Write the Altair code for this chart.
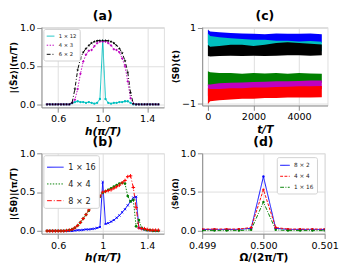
import altair as alt
import pandas as pd

FONT = "DejaVu Sans"

# ---------------- data ----------------
H = [0.5, 0.525, 0.55, 0.575, 0.6, 0.625, 0.65, 0.675, 0.7, 0.725, 0.75,
     0.775, 0.8, 0.825, 0.85, 0.875, 0.9, 0.925, 0.95, 0.975, 1.0,
     1.025, 1.05, 1.075, 1.1, 1.125, 1.15, 1.175, 1.2, 1.225, 1.25,
     1.275, 1.3, 1.325, 1.35, 1.375, 1.4, 1.425, 1.45, 1.475, 1.5]

A_NAMES = ["1 × 12", "4 × 3", "6 × 2"]
A_1x12 = [0, 0, 0, 0, 0, 0, 0, 0, 0,
          0.015, 0.03, 0.04, 0.03, 0.03, 0.02, 0.03, 0.02, 0.01, 0.02, 0.07, 0.83,
          0.07, 0.02, 0.01, 0.02, 0.02, 0.03, 0.03, 0.04, 0.04, 0.02, 0.0,
          0, 0, 0, 0, 0, 0, 0, 0, 0]
A_4x3 = [0, 0, 0, 0, 0, 0, 0, 0, 0,
         0.02, 0.06, 0.2, 0.4, 0.56, 0.65, 0.7, 0.71, 0.76, 0.8, 0.82, 0.82,
         0.82, 0.8, 0.77, 0.72, 0.71, 0.68, 0.6, 0.5, 0.3, 0.08, 0.01,
         0, 0, 0, 0, 0, 0, 0, 0, 0]
A_6x2 = [0, 0, 0, 0, 0, 0, 0, 0, 0,
         0.02, 0.2, 0.45, 0.6, 0.68, 0.73, 0.77, 0.8, 0.82, 0.83, 0.835, 0.835,
         0.835, 0.83, 0.82, 0.8, 0.77, 0.73, 0.67, 0.57, 0.42, 0.15, 0.01,
         0, 0, 0, 0, 0, 0, 0, 0, 0]

B_NAMES = ["1 × 16", "4 × 4", "8 × 2"]
B_1x16 = [0, 0, 0, 0, 0, 0, 0, 0, 0, 0,
          0.005, 0.01, 0.01, 0.015, 0.02, 0.02, 0.025, 0.03, 0.04, 0.05, 0.63,
          0.09, 0.1, 0.12, 0.14, 0.17, 0.2, 0.24, 0.28, 0.33, 0.38, 0.43, 0.44,
          0.04, 0.03, 0.02, 0.01, 0.01, 0, 0, 0]
B_4x4 = [0, 0, 0, 0, 0, 0, 0,
         0.005, 0.01, 0.02, 0.04, 0.07, 0.11, 0.16, 0.21, 0.26, 0.31, 0.36, 0.4, 0.44, 0.49,
         0.51, 0.53, 0.55, 0.57, 0.59, 0.61, 0.62, 0.61, 0.45, 0.38, 0.4, 0.06,
         0.14, 0.04, 0.02, 0.01, 0.01, 0.0, 0.0, 0.0]
B_8x2 = [0, 0, 0, 0, 0, 0, 0,
         0.005, 0.01, 0.02, 0.04, 0.07, 0.11, 0.16, 0.21, 0.27, 0.32, 0.37, 0.41, 0.45, 0.5,
         0.51, 0.52, 0.53, 0.55, 0.57, 0.59, 0.62, 0.65, 0.7, 0.71, 0.56, 0.3,
         0.04, 0.03, 0.03, 0.02, 0.01, 0.01, 0.01, 0.01]

T = [0, 100, 500, 1000, 1500, 2000, 2500, 3000, 3500, 4000, 4500, 5000]
C_BANDS = {
    "blue":    ([0.6, 0.62, 0.63, 0.62, 0.6, 0.6, 0.6, 0.61, 0.6, 0.6, 0.61, 0.6],
                [0.95, 0.9, 0.88, 0.86, 0.85, 0.84, 0.83, 0.85, 0.84, 0.84, 0.85, 0.83]),
    "cyan":    ([0.5, 0.48, 0.45, 0.43, 0.42, 0.4, 0.4, 0.4, 0.38, 0.38, 0.38, 0.38],
                [0.85, 0.78, 0.75, 0.72, 0.7, 0.68, 0.68, 0.66, 0.66, 0.64, 0.65, 0.63]),
    "black":   ([0.25, 0.24, 0.25, 0.26, 0.25, 0.26, 0.25, 0.26, 0.27, 0.27, 0.26, 0.27],
                [0.55, 0.5, 0.52, 0.55, 0.55, 0.52, 0.55, 0.6, 0.62, 0.6, 0.58, 0.56]),
    "green":   ([-0.55, -0.52, -0.5, -0.5, -0.48, -0.5, -0.48, -0.47, -0.48, -0.47, -0.46, -0.46],
                [-0.15, -0.18, -0.2, -0.2, -0.22, -0.2, -0.21, -0.2, -0.22, -0.2, -0.21, -0.22]),
    "magenta": ([-0.8, -0.75, -0.72, -0.7, -0.68, -0.68, -0.66, -0.65, -0.65, -0.64, -0.63, -0.63],
                [-0.5, -0.5, -0.47, -0.46, -0.45, -0.44, -0.43, -0.42, -0.42, -0.41, -0.4, -0.4]),
    "red":     ([-1.02, -0.95, -0.92, -0.9, -0.88, -0.88, -0.86, -0.86, -0.85, -0.85, -0.85, -0.84],
                [-0.6, -0.62, -0.62, -0.6, -0.6, -0.58, -0.58, -0.57, -0.56, -0.55, -0.55, -0.54]),
}
C_COLORS = {"blue": "#0000ff", "cyan": "#00bfbf", "black": "#000000",
            "green": "#008000", "magenta": "#bf00bf", "red": "#ff0000"}

OMEGA = [0.499, 0.4992, 0.4994, 0.4996, 0.4998, 0.5, 0.5002, 0.5004, 0.5006, 0.5008, 0.501]
D_NAMES = ["8 × 2", "4 × 4", "1 × 16"]
D_8x2 = [0.015, 0.015, 0.015, 0.015, 0.03, 0.70, 0.03, 0.015, 0.015, 0.015, 0.015]
D_4x4 = [0.02, 0.02, 0.02, 0.02, 0.04, 0.53, 0.04, 0.02, 0.02, 0.02, 0.02]
D_1x16 = [0.0, 0.0, 0.0, 0.0, 0.01, 0.37, 0.01, 0.0, 0.0, 0.0, 0.0]

# ---------------- helpers ----------------
STAR = ("M0,-1L0.2245,-0.309L0.951,-0.309L0.363,0.118L0.588,0.809L0,0.382"
        "L-0.588,0.809L-0.363,0.118L-0.951,-0.309L-0.2245,-0.309Z")
PLUS = "M-1,0L1,0M0,-1L0,1"
XMARK = "M-1,-1L1,1M-1,1L1,-1"


def long_df(x, names, series):
    rows = []
    for n, ys in zip(names, series):
        for xv, yv in zip(x, ys):
            rows.append({"x": xv, "y": yv, "s": n})
    return pd.DataFrame(rows)


def title(t):
    return alt.Title(t, fontSize=13, fontWeight="bold", font=FONT, offset=0,
                     frame="group", color="black")


def line_panel(df, names, colors, dashes, markers, xscale, yscale, xaxis, yaxis,
               legend, w, h, ttl):
    color = alt.Color("s:N", scale=alt.Scale(domain=names, range=colors), legend=legend)
    dash = alt.StrokeDash("s:N", scale=alt.Scale(domain=names, range=dashes), legend=legend)
    base = alt.Chart(df)
    lines = base.mark_line(strokeWidth=1, clip=True).encode(
        x=alt.X("x:Q", scale=xscale, axis=xaxis),
        y=alt.Y("y:Q", scale=yscale, axis=yaxis),
        color=color, strokeDash=dash, order=alt.Order("x:Q"))
    layers = [lines]
    for n, c, (shape, size, filled) in zip(names, colors, markers):
        layers.append(base.transform_filter(alt.datum.s == n).mark_point(
            shape=shape, size=size, filled=filled, color=c, opacity=1,
            strokeWidth=1, clip=True).encode(x="x:Q", y="y:Q"))
    return alt.layer(*layers).properties(width=w, height=h, title=ttl)


def legend(x, y, fs, sym, rowpad):
    return alt.Legend(orient="none", legendX=x, legendY=y, title=None,
                      labelFontSize=fs, labelFont=FONT, symbolType="stroke",
                      symbolSize=sym, symbolStrokeWidth=1, rowPadding=rowpad,
                      padding=3, fillColor="white", strokeColor="#d0d0d0",
                      cornerRadius=2, labelColor="#222")


def xax(values, title, fmt=None, expr=None, italic=False):
    kw = dict(values=values, title=title, labelFlush=False, labelOverlap=False,
              titleFontStyle="italic" if italic else "normal", titlePadding=2)
    if fmt:
        kw["format"] = fmt
    if expr:
        kw["labelExpr"] = expr
    return alt.Axis(**kw)


def yax(values, title, fmt=None, tfs=9.5):
    kw = dict(values=values, title=title, labelFlush=False, labelOverlap=False,
              titleFontSize=tfs, titlePadding=1)
    if fmt:
        kw["format"] = fmt
    return alt.Axis(**kw)


W, HGT = 128, 84

# (a)
dfa = long_df(H, A_NAMES, [A_1x12, A_4x3, A_6x2])
pa = line_panel(
    dfa, A_NAMES, ["#00bfbf", "#bf00bf", "#000000"], [[1, 0], [1.5, 1.5], [4, 2, 1, 2]],
    [("circle", 6, True), (PLUS, 6, False), (STAR, 12, True)],
    alt.Scale(domain=[0.45, 1.55], nice=False, zero=False),
    alt.Scale(domain=[-0.04, 1.01], nice=False, zero=False),
    xax([0.6, 1.0, 1.4], "h(π/T)", fmt=".1f", italic=True),
    yax([0, 0.5, 1.0], "|⟨S̃z⟩|(π/T)", fmt=".1f"),
    legend(2, 2, 5.5, 64, 1.5), W, HGT, title("(a)"))

# (b)
dfb = long_df(H, B_NAMES, [B_1x16, B_4x4, B_8x2])
pb = line_panel(
    dfb, B_NAMES, ["#0000ff", "#008000", "#ff0000"], [[1, 0], [1.5, 1.5], [5, 2, 1, 2]],
    [(XMARK, 5, False), ("circle", 8, True), (PLUS, 14, False)],
    alt.Scale(domain=[0.45, 1.55], nice=False, zero=False),
    alt.Scale(domain=[-0.035, 1.0], nice=False, zero=False),
    xax([0.6, 0.75, 1.0, 1.25, 1.4], "h(π/T)",
        expr="datum.value == 0.75 ? '³⁄₄' : datum.value == 1.25 ? '⁵⁄₄' : datum.value == 1 ? '1' : format(datum.value, '.1f')",
        italic=True),
    yax([0, 0.5, 1.0], "|⟨S̃θ⟩|(π/T)", fmt=".1f"),
    legend(2, 2, 8.5, 300, 3.5), W, HGT, title("(b)"))

# (c)
rows = []
for name, (lo, hi) in C_BANDS.items():
    for t, l, u in zip(T, lo, hi):
        rows.append({"t": t, "lo": l, "hi": u, "s": name})
dfc = pd.DataFrame(rows)
c_layers = []
for name in ["green", "magenta", "red", "blue", "cyan", "black"]:
    c_layers.append(alt.Chart(dfc).transform_filter(alt.datum.s == name).mark_area(
        color=C_COLORS[name], opacity=1, clip=True).encode(
        x=alt.X("t:Q", scale=alt.Scale(domain=[-250, 5250], nice=False, zero=False),
                axis=xax([0, 2000, 4000], "t/T", fmt="d", italic=True)),
        y=alt.Y("lo:Q", scale=alt.Scale(domain=[-1.06, 1.02], nice=False, zero=False),
                axis=yax([-1, 0, 1], "⟨Sθ⟩(t)", fmt="d")),
        y2="hi:Q"))
pc = alt.layer(*c_layers).properties(width=131, height=82, title=title("(c)"))

# (d)
dfd = long_df(OMEGA, D_NAMES, [D_8x2, D_4x4, D_1x16])
pd_ = line_panel(
    dfd, D_NAMES, ["#0000ff", "#ff0000", "#008000"], [[1, 0], [3, 1.5], [4, 1.5, 1, 1.5]],
    [("circle", 6, True), ("circle", 6, True), ("circle", 6, True)],
    alt.Scale(domain=[0.499, 0.501], nice=False, zero=False),
    alt.Scale(domain=[-0.04, 1.0], nice=False, zero=False),
    xax([0.499, 0.5, 0.501], "Ω/(2π/T)", fmt=".3f"),
    yax([0, 0.5, 1.0], "⟨S̃θ⟩(Ω)", fmt=".1f", tfs=8),
    legend(78, 4, 6, 100, 2.5), W, HGT, title("(d)"))

chart = alt.concat(pa, pc, pb, pd_, columns=2, spacing={"row": 48, "column": 40},
                   bounds="flush").resolve_scale(
    x="independent", y="independent", color="independent",
    strokeDash="independent").resolve_legend(color="independent", strokeDash="independent")

chart = chart.properties(padding={"left": 0, "top": -4, "right": 0, "bottom": 0}).configure_view(
    stroke="#b8b8b8", strokeWidth=1).configure_axis(
    grid=True, gridColor="#e2e2e2", gridWidth=0.8, domain=False, ticks=False,
    labelFont=FONT, titleFont=FONT, labelFontSize=9, titleFontSize=9.5,
    labelColor="#222", titleColor="#222", titleFontWeight="normal",
    labelPadding=2).configure(font=FONT)

chart.save("out.html", embed_options={"renderer": "svg", "actions": False})
